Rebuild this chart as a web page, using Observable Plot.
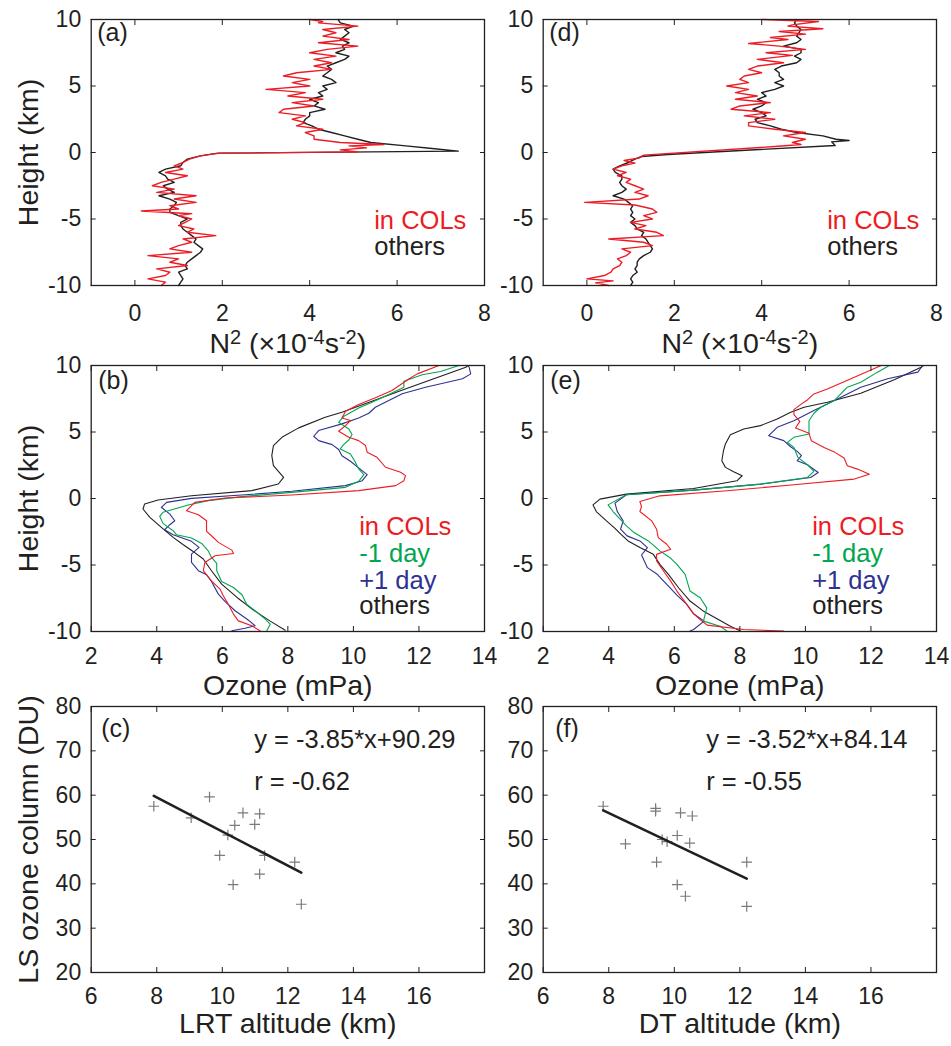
<!DOCTYPE html>
<html><head><meta charset="utf-8">
<script src="https://cdn.jsdelivr.net/npm/d3@7"></script>
<script src="https://cdn.jsdelivr.net/npm/@observablehq/plot@0.6"></script>
<style>
html,body{margin:0;padding:0;background:#fff;}
#chart{position:relative;width:951px;height:1046px;overflow:hidden;background:#fff;}
#chart svg{position:absolute;left:0;top:0;}
</style></head><body><div id="chart"></div>
<script>
// ---------- tick labels ----------
const HEIGHT_TICKS = [-10, -5, 0, 5, 10];
const N2_TICKS = [0, 2, 4, 6, 8];
const OZONE_TICKS = [2, 4, 6, 8, 10, 12, 14];
const ALT_TICKS = [6, 8, 10, 12, 14, 16];
const COLUMN_TICKS = [20, 30, 40, 50, 60, 70, 80];

// ---------- (a) N2 profiles vs LRT-relative height: [height km, N2 x1e-4 s-2] ----------
const N2_A_COLS = [[10,4.0],[9.85,4.3],[9.75,4.2],[9.5,5.1],[9.25,4.3],[9,4.6],[8.75,4.3],[8.5,4.9],[8.25,4.2],[8,5.1],[7.75,4.4],[7.5,4.0],[7.25,4.6],[7,4.1],[6.75,4.5],[6.5,4.1],[6.25,4.5],[6,3.7],[5.75,3.4],[5.5,4.0],[5.25,3.6],[5,4.0],[4.75,3.0],[4.5,3.9],[4.25,3.5],[4,4.3],[3.75,3.6],[3.5,4.1],[3.25,3.4],[3,3.3],[2.75,3.9],[2.5,3.6],[2.25,3.9],[2,3.7],[1.75,4.3],[1.5,3.9],[1.25,4.1],[1,4.1],[0.75,4.7],[0.6,5.7],[0.5,4.9],[0.35,5.3],[0.2,4.7],[0.05,5.1],[-0.05,2.0],[-0.1,1.8],[-0.25,1.5],[-0.5,1.25],[-0.75,1.1],[-1,0.9],[-1.25,1.1],[-1.5,0.7],[-1.75,1.2],[-2,0.9],[-2.25,0.6],[-2.5,0.4],[-2.75,0.9],[-3,0.5],[-3.25,1.4],[-3.5,0.9],[-3.75,1.4],[-4,0.8],[-4.25,1.0],[-4.4,0.15],[-4.6,1.3],[-4.75,1.0],[-5,1.3],[-5.25,1.15],[-5.5,1.0],[-5.75,1.35],[-6,1.2],[-6.25,1.85],[-6.5,1.1],[-6.75,1.3],[-7,1.0],[-7.25,0.8],[-7.5,1.3],[-7.75,0.3],[-8,1.0],[-8.25,0.8],[-8.5,1.2],[-8.75,0.5],[-9,0.8],[-9.25,0.7],[-9.5,0.3],[-9.75,0.7],[-10,0.6]];
const N2_A_OTHERS = [[10,4.65],[9.75,4.7],[9.5,5.0],[9.25,4.8],[9,4.9],[8.75,4.8],[8.5,4.7],[8.25,4.9],[8,4.75],[7.75,4.8],[7.5,4.6],[7.25,4.9],[7,4.8],[6.75,4.6],[6.5,4.4],[6.25,4.5],[6,4.4],[5.75,4.3],[5.5,4.5],[5.25,4.6],[5,4.3],[4.75,4.4],[4.5,4.2],[4.25,4.3],[4,4.0],[3.75,4.2],[3.5,4.1],[3.25,4.35],[3,4.0],[2.75,4.0],[2.5,3.9],[2.25,3.85],[2,4.05],[1.75,4.2],[1.5,4.5],[1.25,4.8],[1,5.1],[0.75,5.4],[0.5,6.2],[0.3,6.8],[0.1,7.4],[-0.05,1.9],[-0.25,1.5],[-0.5,1.2],[-0.75,1.1],[-1,1.05],[-1.25,0.7],[-1.5,0.55],[-1.75,0.7],[-2,0.75],[-2.25,0.9],[-2.5,0.65],[-2.75,0.75],[-3,0.9],[-3.25,0.55],[-3.5,0.8],[-3.75,0.95],[-4,0.9],[-4.25,0.8],[-4.5,0.8],[-4.75,1.0],[-5,1.2],[-5.25,1.05],[-5.5,1.05],[-5.75,1.1],[-6,1.2],[-6.25,1.3],[-6.5,1.4],[-6.75,1.35],[-7,1.45],[-7.25,1.55],[-7.5,1.5],[-7.75,1.4],[-8,1.3],[-8.25,1.2],[-8.5,1.15],[-8.75,1.2],[-9,1.0],[-9.25,1.05],[-9.5,1.1],[-9.75,1.05],[-10,1.0]];

// ---------- (d) N2 profiles vs DT-relative height ----------
const N2_D_COLS = [[10,4.0],[9.85,5.3],[9.6,4.7],[9.5,4.6],[9.3,5.4],[9.1,4.4],[8.9,5.0],[8.65,4.2],[8.5,4.6],[8.2,3.7],[8,4.4],[7.75,5.0],[7.5,4.1],[7.3,4.7],[7,3.9],[6.75,4.5],[6.5,3.9],[6.25,3.7],[6,4.0],[5.75,3.6],[5.5,3.5],[5.25,3.7],[5,3.2],[4.75,3.7],[4.5,3.4],[4.25,3.9],[4,3.4],[3.75,4.2],[3.5,3.5],[3.25,3.3],[3,4.2],[2.75,3.6],[2.5,4.3],[2.25,3.7],[2,3.7],[1.75,4.3],[1.5,5.0],[1.25,4.5],[1,5.0],[0.75,4.7],[0.6,4.9],[0.45,4.3],[-0.2,1.3],[-0.4,1.2],[-0.6,0.85],[-0.8,1.1],[-1,0.8],[-1.25,0.6],[-1.5,0.9],[-1.75,0.7],[-2,1.0],[-2.25,0.9],[-2.5,1.1],[-2.75,1.3],[-3,1.1],[-3.25,1.4],[-3.5,1.2],[-3.75,-0.05],[-3.95,1.1],[-4.25,1.5],[-4.5,1.6],[-4.75,1.3],[-5,1.5],[-5.25,1.0],[-5.5,1.35],[-5.75,1.1],[-6,1.6],[-6.25,1.75],[-6.5,0.5],[-6.75,1.3],[-7,1.5],[-7.25,0.8],[-7.5,1.0],[-7.75,0.9],[-8,0.7],[-8.25,0.8],[-8.5,0.75],[-8.75,0.6],[-9,0.55],[-9.25,0.4],[-9.5,0.0],[-9.65,0.6],[-9.8,0.2],[-10,0.5]];
const N2_D_OTHERS = [[10,4.8],[9.75,4.75],[9.5,4.8],[9.25,4.9],[9,4.85],[8.75,4.8],[8.5,4.9],[8.25,4.8],[8,4.5],[7.75,4.9],[7.5,4.9],[7.25,4.75],[7,4.9],[6.75,4.8],[6.5,4.45],[6.25,4.3],[6,4.4],[5.75,4.4],[5.5,4.5],[5.25,4.3],[5,4.5],[4.75,4.3],[4.5,4.0],[4.25,4.1],[4,3.9],[3.75,4.1],[3.5,4.0],[3.25,3.8],[3,4.0],[2.75,4.1],[2.5,3.85],[2.25,3.9],[2,4.2],[1.75,4.45],[1.5,4.8],[1.25,5.4],[1,5.7],[0.9,6.0],[0.8,5.6],[0.53,5.68],[-0.15,1.85],[-0.3,1.25],[-0.5,1.1],[-0.75,0.95],[-1,0.75],[-1.25,0.6],[-1.5,0.65],[-1.75,0.8],[-2,0.8],[-2.25,0.75],[-2.5,0.8],[-2.75,0.9],[-3,0.8],[-3.25,0.6],[-3.5,0.85],[-3.75,0.95],[-4,1.05],[-4.25,1.0],[-4.5,1.05],[-4.75,1.0],[-5,1.1],[-5.25,1.0],[-5.5,1.1],[-5.75,1.15],[-6,1.3],[-6.25,1.25],[-6.5,1.35],[-6.75,1.4],[-7,1.45],[-7.25,1.5],[-7.5,1.45],[-7.75,1.3],[-8,1.2],[-8.25,1.15],[-8.5,1.15],[-8.75,1.1],[-9,1.15],[-9.25,1.05],[-9.5,1.0],[-9.75,1.05],[-10,1.0]];

// ---------- (b) ozone profiles vs LRT-relative height: [height km, ozone mPa] ----------
const O3_B_COLS = [[10,12.61],[9.37,11.95],[9.0,11.7],[8.12,11.18],[7.57,10.67],[7.06,10.16],[6.56,9.76],[6.06,9.65],[5.86,9.91],[5.48,9.76],[5.06,9.55],[4.6,9.86],[4.35,10.16],[3.98,10.37],[3.48,10.42],[3.1,10.72],[2.35,10.98],[1.97,11.44],[1.72,11.59],[1.34,11.54],[0.97,11.29],[0.59,10.16],[0.26,8.12],[0.04,6.08],[-0.29,5.16],[-0.92,4.91],[-1.22,5.27],[-1.67,5.52],[-2.47,5.52],[-2.8,5.67],[-3.3,5.88],[-3.88,6.29],[-4.13,6.34],[-4.3,5.78],[-4.81,5.47],[-5.43,5.42],[-6.19,5.67],[-6.81,5.93],[-7.31,6.03],[-7.94,6.18],[-8.69,6.34],[-9.2,6.49],[-9.57,6.9],[-9.95,7.15]];
const O3_B_MINUS1 = [[10,13.22],[9.55,12.66],[9.3,12.1],[8.82,11.54],[8.37,11.54],[7.82,11.08],[7.24,10.57],[6.81,10.16],[6.16,9.7],[5.73,9.55],[5.23,9.86],[4.81,9.96],[4.4,9.86],[4.05,9.7],[3.73,9.6],[3.35,9.91],[2.72,10.06],[2.22,10.16],[1.79,10.32],[1.29,10.16],[0.84,9.76],[0.46,8.12],[0.14,6.59],[-0.16,5.57],[-0.49,4.96],[-1.04,4.19],[-1.34,4.09],[-1.87,4.19],[-2.42,4.5],[-2.72,4.6],[-2.97,5.06],[-3.38,5.37],[-3.93,5.57],[-4.43,5.67],[-4.88,5.83],[-5.43,5.83],[-6.24,5.98],[-6.69,6.34],[-7.24,6.6],[-7.94,6.74],[-8.44,7.0],[-9.07,7.31],[-9.45,7.46],[-9.95,7.36]];
const O3_B_PLUS1 = [[10,13.5],[9.87,13.53],[9.37,13.58],[9.0,13.33],[8.37,12.2],[7.87,11.49],[6.86,10.67],[6.41,10.47],[6.06,10.16],[5.61,9.65],[5.11,8.94],[4.68,8.79],[4.35,8.94],[4.05,9.35],[3.68,9.55],[3.22,9.65],[2.8,9.91],[2.3,10.16],[1.79,10.42],[1.34,10.27],[0.97,9.76],[0.54,8.12],[0.26,6.59],[0.01,5.06],[-0.29,4.3],[-0.66,4.14],[-1.17,4.4],[-1.67,4.55],[-1.97,4.4],[-2.35,4.24],[-2.72,4.5],[-3.22,5.06],[-3.68,5.29],[-4.18,5.06],[-4.81,5.06],[-5.43,5.27],[-5.73,5.52],[-6.24,5.67],[-7.19,5.88],[-7.74,6.08],[-8.44,6.39],[-9.15,6.8],[-9.57,7.0],[-9.75,6.69],[-9.95,6.29]];
const O3_B_OTHERS = [[10,13.5],[9.87,13.43],[8.19,11.54],[6.49,9.65],[6.11,9.14],[5.31,8.33],[4.6,7.82],[3.98,7.56],[3.22,7.51],[2.47,7.56],[1.59,7.87],[1.09,7.71],[0.59,6.9],[0.21,5.06],[-0.11,4.04],[-0.41,3.63],[-0.79,3.58],[-1.42,3.79],[-2.17,4.14],[-2.92,4.5],[-3.48,4.81],[-3.98,5.11],[-4.55,5.42],[-5.43,5.67],[-6.44,5.98],[-7.44,6.45],[-8.39,6.95],[-9.2,7.45],[-9.9,7.92]];

// ---------- (e) ozone profiles vs DT-relative height ----------
const O3_E_COLS = [[10,12.31],[9.67,12.0],[9.0,11.39],[8.24,10.67],[7.86,10.26],[7.41,10.06],[7.06,9.85],[6.68,9.65],[6.31,9.65],[5.8,9.83],[5.3,9.7],[4.9,10.11],[4.35,10.18],[3.84,10.57],[3.47,10.9],[3.04,11.18],[2.46,11.28],[2.21,11.59],[1.83,11.95],[1.46,11.49],[1.03,9.65],[0.58,7.61],[0.2,5.56],[-0.23,4.95],[-0.6,5.0],[-0.98,4.95],[-1.68,5.31],[-2.31,5.46],[-2.94,5.51],[-3.44,5.77],[-3.82,5.89],[-4.2,5.46],[-4.7,5.46],[-5.45,5.67],[-6.21,5.89],[-6.96,6.08],[-7.96,6.38],[-8.67,6.59],[-9.1,6.79],[-9.52,7.0],[-9.85,8.12],[-9.97,9.34]];
const O3_E_MINUS1 = [[10,12.56],[9.5,12.2],[8.74,11.69],[8.37,11.28],[7.36,10.88],[6.86,10.47],[6.41,10.26],[5.85,10.11],[4.85,10.11],[4.6,9.65],[4.22,9.45],[3.84,9.65],[3.09,9.77],[2.54,10.06],[2.04,10.26],[1.58,10.06],[1.08,8.63],[0.63,6.59],[0.28,4.54],[-0.48,3.98],[-0.98,4.13],[-2.06,4.54],[-2.56,4.77],[-3.19,5.21],[-3.94,5.56],[-4.45,5.87],[-4.95,6.08],[-5.7,6.33],[-6.96,6.48],[-7.46,6.79],[-8.22,6.99],[-9.22,6.89],[-9.6,7.4],[-9.97,7.61]];
const O3_E_PLUS1 = [[10,13.58],[9.5,13.43],[9.0,12.51],[8.37,11.69],[7.86,11.28],[7.11,10.67],[6.61,10.26],[5.85,9.65],[5.35,9.14],[4.72,8.88],[4.35,9.34],[3.89,9.55],[3.54,9.75],[3.22,9.88],[2.84,9.75],[2.54,10.06],[1.96,10.39],[1.58,10.16],[1.08,8.63],[0.63,6.59],[0.28,4.54],[-0.35,4.19],[-0.98,4.26],[-1.68,4.44],[-2.31,4.36],[-2.81,4.56],[-3.19,4.95],[-3.69,5.18],[-4.25,5.0],[-5.2,5.18],[-5.7,5.48],[-6.46,5.77],[-7.26,6.08],[-7.96,6.38],[-8.67,6.59],[-9.22,6.91],[-9.85,6.59],[-9.97,6.48]];
const O3_E_OTHERS = [[10,13.6],[9.87,13.53],[8.92,12.71],[7.91,11.69],[7.24,10.67],[6.86,9.96],[6.48,9.55],[5.98,9.14],[5.48,8.63],[5.23,8.12],[4.8,7.71],[4.1,7.56],[3.59,7.5],[2.84,7.45],[2.34,7.56],[2.01,7.81],[1.71,8.07],[1.33,7.91],[0.75,6.59],[0.33,4.54],[-0.05,3.73],[-0.48,3.52],[-0.98,3.62],[-1.68,3.93],[-2.24,4.19],[-2.74,4.39],[-3.19,4.59],[-3.69,4.95],[-4.2,5.36],[-4.95,5.56],[-5.7,5.82],[-6.71,6.13],[-7.71,6.48],[-8.47,6.89],[-9.17,7.4],[-9.6,7.71],[-9.97,8.02]];

// ---------- (c) LRT altitude vs LS ozone column ----------
const LRT_ALT = [7.91, 9.05, 9.61, 9.92, 10.17, 10.38, 10.63, 10.33, 10.99, 11.14, 11.29, 11.14, 12.21, 12.41];
const LRT_COLUMN = [57.5, 54.9, 59.6, 46.4, 51.0, 53.2, 56.0, 39.8, 53.4, 55.8, 46.4, 42.2, 44.9, 35.4];
const FIT_C = {slope: -3.85, intercept: 90.29, r: -0.62};
// ---------- (f) DT altitude vs LS ozone column ----------
const DT_ALT = [7.83, 8.51, 9.43, 9.43, 9.46, 9.63, 9.78, 10.09, 10.19, 10.55, 10.47, 10.09, 10.34, 12.21, 12.21];
const DT_COLUMN = [57.5, 49.0, 57.0, 56.4, 44.9, 50.0, 49.5, 50.9, 56.0, 55.3, 49.2, 39.8, 37.2, 44.9, 34.9];
const FIT_F = {slope: -3.52, intercept: 84.14, r: -0.55};

// ---------- style ----------
const FONT = "'Liberation Sans', Arial, Helvetica, sans-serif";
const INK = "#231f20", RED = "#ed1c24", GREEN = "#00a651", BLUE = "#2e3192", GRAY = "#7a7a7a";
const W = 951, H = 1046;
const COLS = {left: [90.7, 484], right: [542.7, 936]};
const ROWS = [[19, 285], [365, 631], [706, 972]];
const X_PAD = [24, 21, 20];
const XLABEL_DY = [67, 63, 60];

const fmt = d => String(d);
function axes(xTicks, yTicks, row) {
  return [
    Plot.axisX({anchor: "bottom", ticks: xTicks, tickSize: -5, tickPadding: X_PAD[row], tickFormat: fmt, label: null, fontSize: 23}),
    Plot.axisX({anchor: "top", ticks: xTicks, tickSize: -5, tickFormat: () => "", label: null}),
    Plot.axisY({anchor: "left", ticks: yTicks, tickSize: -5, tickPadding: 15, tickFormat: fmt, label: null, fontSize: 23}),
    Plot.axisY({anchor: "right", ticks: yTicks, tickSize: -5, tickFormat: () => "", label: null})
  ];
}
function note(str, dx, dy, fill = INK, size = 25.5) {
  return Plot.text([str], {text: d => d, frameAnchor: "top-left", dx, dy, textAnchor: "start", lineAnchor: "bottom", fill, fontSize: size});
}
function xLabel(str, row) {
  return Plot.text([str], {text: d => d, frameAnchor: "bottom", dy: XLABEL_DY[row], textAnchor: "middle", lineAnchor: "bottom", fill: INK, fontSize: 28.5});
}
function yLabel(str) {
  return Plot.text([str], {text: d => d, frameAnchor: "left", dx: -62, rotate: -90, textAnchor: "middle", lineAnchor: "middle", fill: INK, fontSize: 28.5});
}
function profile(pairs, stroke, width) {
  return Plot.line(pairs, {x: d => d[1], y: d => d[0], stroke, strokeWidth: width, strokeLinejoin: "round"});
}
function fitLine(xs, fit) {
  const [lo, hi] = d3.extent(xs);
  return [lo, hi].map(x => ({x, y: fit.slope * x + fit.intercept}));
}
function panel(col, row, xDomain, yDomain, xTicks, yTicks, marks) {
  const [x0, x1] = COLS[col], [y0, y1] = ROWS[row];
  return Plot.plot({
    width: W, height: H,
    marginLeft: x0, marginRight: W - x1, marginTop: y0, marginBottom: H - y1,
    style: {background: "transparent", fontFamily: FONT, color: INK, overflow: "visible"},
    x: {domain: xDomain}, y: {domain: yDomain},
    marks: [...marks, Plot.frame({stroke: INK, strokeWidth: 1.3}), ...axes(xTicks, yTicks, row)]
  });
}

const N2_MARK = "N2_LABEL_PLACEHOLDER";
const plots = [
  panel("left", 0, [-1, 8], [-10, 10], N2_TICKS, HEIGHT_TICKS, [
    profile(N2_A_OTHERS, INK, 1.4), profile(N2_A_COLS, RED, 1.4),
    note("(a)", 6, 21, INK, 25), note("in COLs", 283, 209, RED), note("others", 283, 235, INK),
    xLabel(N2_MARK, 0), yLabel("Height (km)")
  ]),
  panel("right", 0, [-1, 8], [-10, 10], N2_TICKS, HEIGHT_TICKS, [
    profile(N2_D_OTHERS, INK, 1.4), profile(N2_D_COLS, RED, 1.4),
    note("(d)", 6, 21, INK, 25), note("in COLs", 284, 209, RED), note("others", 284, 235, INK),
    xLabel(N2_MARK, 0)
  ]),
  panel("left", 1, [2, 14], [-10, 10], OZONE_TICKS, HEIGHT_TICKS, [
    profile(O3_B_OTHERS, INK, 1.1), profile(O3_B_PLUS1, BLUE, 1.1), profile(O3_B_MINUS1, GREEN, 1.1), profile(O3_B_COLS, RED, 1.1),
    note("(b)", 7, 23, INK, 25),
    note("in COLs", 268, 169, RED), note("-1 day", 268, 196, GREEN), note("+1 day", 268, 223, BLUE), note("others", 268, 248, INK),
    xLabel("Ozone (mPa)", 1), yLabel("Height (km)")
  ]),
  panel("right", 1, [2, 14], [-10, 10], OZONE_TICKS, HEIGHT_TICKS, [
    profile(O3_E_OTHERS, INK, 1.1), profile(O3_E_PLUS1, BLUE, 1.1), profile(O3_E_MINUS1, GREEN, 1.1), profile(O3_E_COLS, RED, 1.1),
    note("(e)", 7, 23, INK, 25),
    note("in COLs", 269, 169, RED), note("-1 day", 269, 196, GREEN), note("+1 day", 269, 223, BLUE), note("others", 269, 248, INK),
    xLabel("Ozone (mPa)", 1)
  ]),
  panel("left", 2, [6, 18], [20, 80], ALT_TICKS, COLUMN_TICKS, [
    Plot.dot(LRT_ALT, {x: d => d, y: (d, i) => LRT_COLUMN[i], symbol: "plus", r: 3.5, stroke: GRAY, strokeWidth: 1.2}),
    Plot.line(fitLine(LRT_ALT, FIT_C), {x: "x", y: "y", stroke: INK, strokeWidth: 2.6}),
    note("(c)", 10, 30.5, INK, 25),
    note(`y = ${FIT_C.slope}*x+${FIT_C.intercept}`, 163, 41),
    note(`r = ${FIT_C.r}`, 163, 83),
    xLabel("LRT altitude (km)", 2), yLabel("LS ozone column (DU)")
  ]),
  panel("right", 2, [6, 18], [20, 80], ALT_TICKS, COLUMN_TICKS, [
    Plot.dot(DT_ALT, {x: d => d, y: (d, i) => DT_COLUMN[i], symbol: "plus", r: 3.5, stroke: GRAY, strokeWidth: 1.2}),
    Plot.line(fitLine(DT_ALT, FIT_F), {x: "x", y: "y", stroke: INK, strokeWidth: 2.6}),
    note("(f)", 12, 30.5, INK, 25),
    note(`y = ${FIT_F.slope}*x+${FIT_F.intercept}`, 163, 41),
    note(`r = ${FIT_F.r}`, 163, 83),
    xLabel("DT altitude (km)", 2)
  ])
];

const chart = document.getElementById("chart");
for (const p of plots) chart.appendChild(p);

// N² (×10⁻⁴s⁻²) with real superscripts
chart.querySelectorAll("text").forEach(t => {
  if (t.textContent === N2_MARK) {
    const sel = d3.select(t);
    sel.text(null);
    const parts = [["N", 0], ["2", 1], [" (\u00d710", 0], ["-4", 1], ["s", 0], ["-2", 1], [")", 0]];
    let prev = 0;
    for (const [s, sup] of parts) {
      const shift = sup ? -9 : 0;
      sel.append("tspan").attr("dy", shift - prev).attr("font-size", sup ? 20 : null).text(s);
      prev = shift;
    }
  }
});
</script></body></html>
